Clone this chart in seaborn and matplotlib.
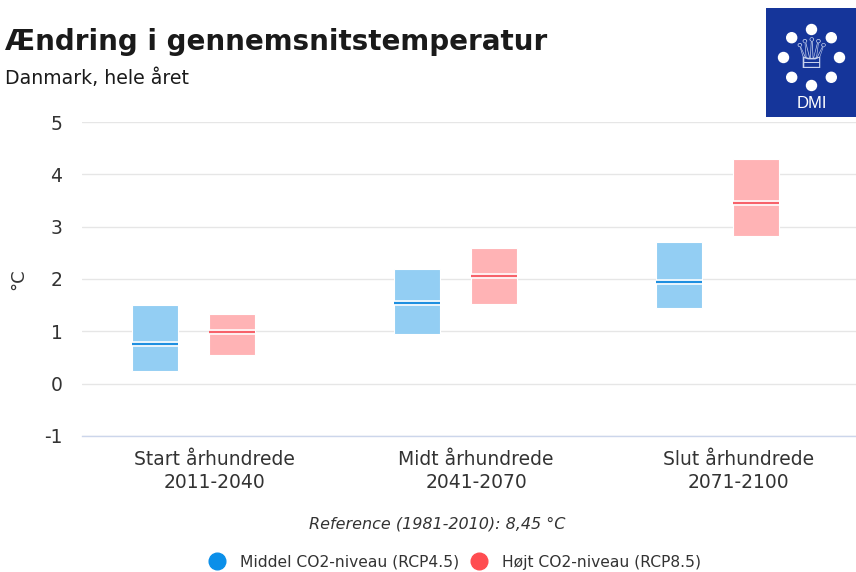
import math
import seaborn as sns
import matplotlib.pyplot as plt
from matplotlib.patches import Rectangle, Circle
from matplotlib.lines import Line2D

periods = ["Start århundrede\n2011-2040", "Midt århundrede\n2041-2070", "Slut århundrede\n2071-2100"]
scenarios = ["Middel CO2-niveau (RCP4.5)", "Højt CO2-niveau (RCP8.5)"]

# spread (low/high) and median of the change, degrees C
rcp45_low = [0.24, 0.94, 1.44]
rcp45_mid = [0.75, 1.55, 1.95]
rcp45_high = [1.50, 2.20, 2.70]
rcp85_low = [0.55, 1.53, 2.83]
rcp85_mid = [0.98, 2.05, 3.45]
rcp85_high = [1.34, 2.60, 4.29]

box_colors = ["#93cef3", "#ffb3b5"]
line_colors = ["#1e8fe0", "#f7626a"]
dot_colors = ["#0b8fe9", "#ff4d51"]

sns.set_theme(style="white")
plt.rcParams['font.family'] = ['DejaVu Sans']
plt.rcParams['axes.unicode_minus'] = False

fig = plt.figure(figsize=(8.56, 5.72), dpi=100)
ax = fig.add_axes([82/856, 1-436/572, 1-82/856, 314/572])

offsets = [-0.225, 0.07]
width = 0.176
series = [(rcp45_low, rcp45_mid, rcp45_high), (rcp85_low, rcp85_mid, rcp85_high)]
for k, (lo, mid, hi) in enumerate(series):
    xs = [i + offsets[k] for i in range(len(periods))]
    heights = [h - l for h, l in zip(hi, lo)]
    ax.bar(xs, heights, bottom=lo, width=width, color=box_colors[k],
           edgecolor="white", linewidth=0.8, zorder=3)
    ax.hlines(mid, [x - width/2 for x in xs], [x + width/2 for x in xs],
              color="white", linewidth=4, zorder=4)
    ax.hlines(mid, [x - width/2 for x in xs], [x + width/2 for x in xs],
              color=line_colors[k], linewidth=1.6, zorder=5)

ax.set_ylim(-1, 5)
ax.set_xlim(-0.504, 2.45)
ax.set_yticks(range(-1, 6))
ax.set_xticks(range(len(periods)))
ax.set_xticklabels(periods, fontsize=13.5, color="#333333", linespacing=1.3)
ax.tick_params(axis="y", labelsize=13.5, labelcolor="#333333", pad=14, length=0)
ax.tick_params(axis="x", length=0, pad=10)
ax.grid(axis="y", color="#e6e6e6", linewidth=1, zorder=0)
for s in ["top", "right", "left"]:
    ax.spines[s].set_visible(False)
ax.spines["bottom"].set_color("#ccd6eb")
ax.spines["bottom"].set_linewidth(1)

fig.text(18/856, 1-279/572, "°C", fontsize=13, color="#333333", rotation=90,
         va="center", ha="center")
fig.text(5/856, 1-42/572, "Ændring i gennemsnitstemperatur", fontsize=20,
         fontweight="bold", color="#1a1a1a", va="center", ha="left")
fig.text(5/856, 1-78/572, "Danmark, hele året", fontsize=13.6,
         color="#1a1a1a", va="center", ha="left")
fig.text(437/856, 1-524/572, "Reference (1981-2010): 8,45 °C", fontsize=11.5,
         style="italic", color="#333333", va="center", ha="center")

handles = [Line2D([], [], marker="o", linestyle="", markersize=12,
                  markerfacecolor=c, markeredgecolor=c) for c in dot_colors]
fig.legend(handles, scenarios, loc="center", bbox_to_anchor=(451/856, 1-562/572),
           ncol=2, frameon=False, fontsize=11.2, handletextpad=0.45,
           columnspacing=0.3, labelcolor="#333333")

# DMI logo
lax = fig.add_axes([766/856, 1-117/572, 90/856, 109/572])
lax.set_xlim(0, 90)
lax.set_ylim(0, 109)
lax.axis("off")
lax.add_patch(Rectangle((0, 0), 90, 109, color="#15359a"))
cx, cy, r = 45.5, 59.5, 28
for j in range(8):
    a = math.pi/2 + j*math.pi/4
    lax.add_patch(Circle((cx + r*math.cos(a), cy + r*math.sin(a)), 5, color="white"))
lax.text(cx, cy + 1, "♕", fontsize=30, color="#c8d3ee", ha="center", va="center")
lax.text(cx, 13, "DMI", fontsize=12, color="white", ha="center", va="center",
         family="Liberation Sans")

fig.savefig("out.png", dpi=100)
